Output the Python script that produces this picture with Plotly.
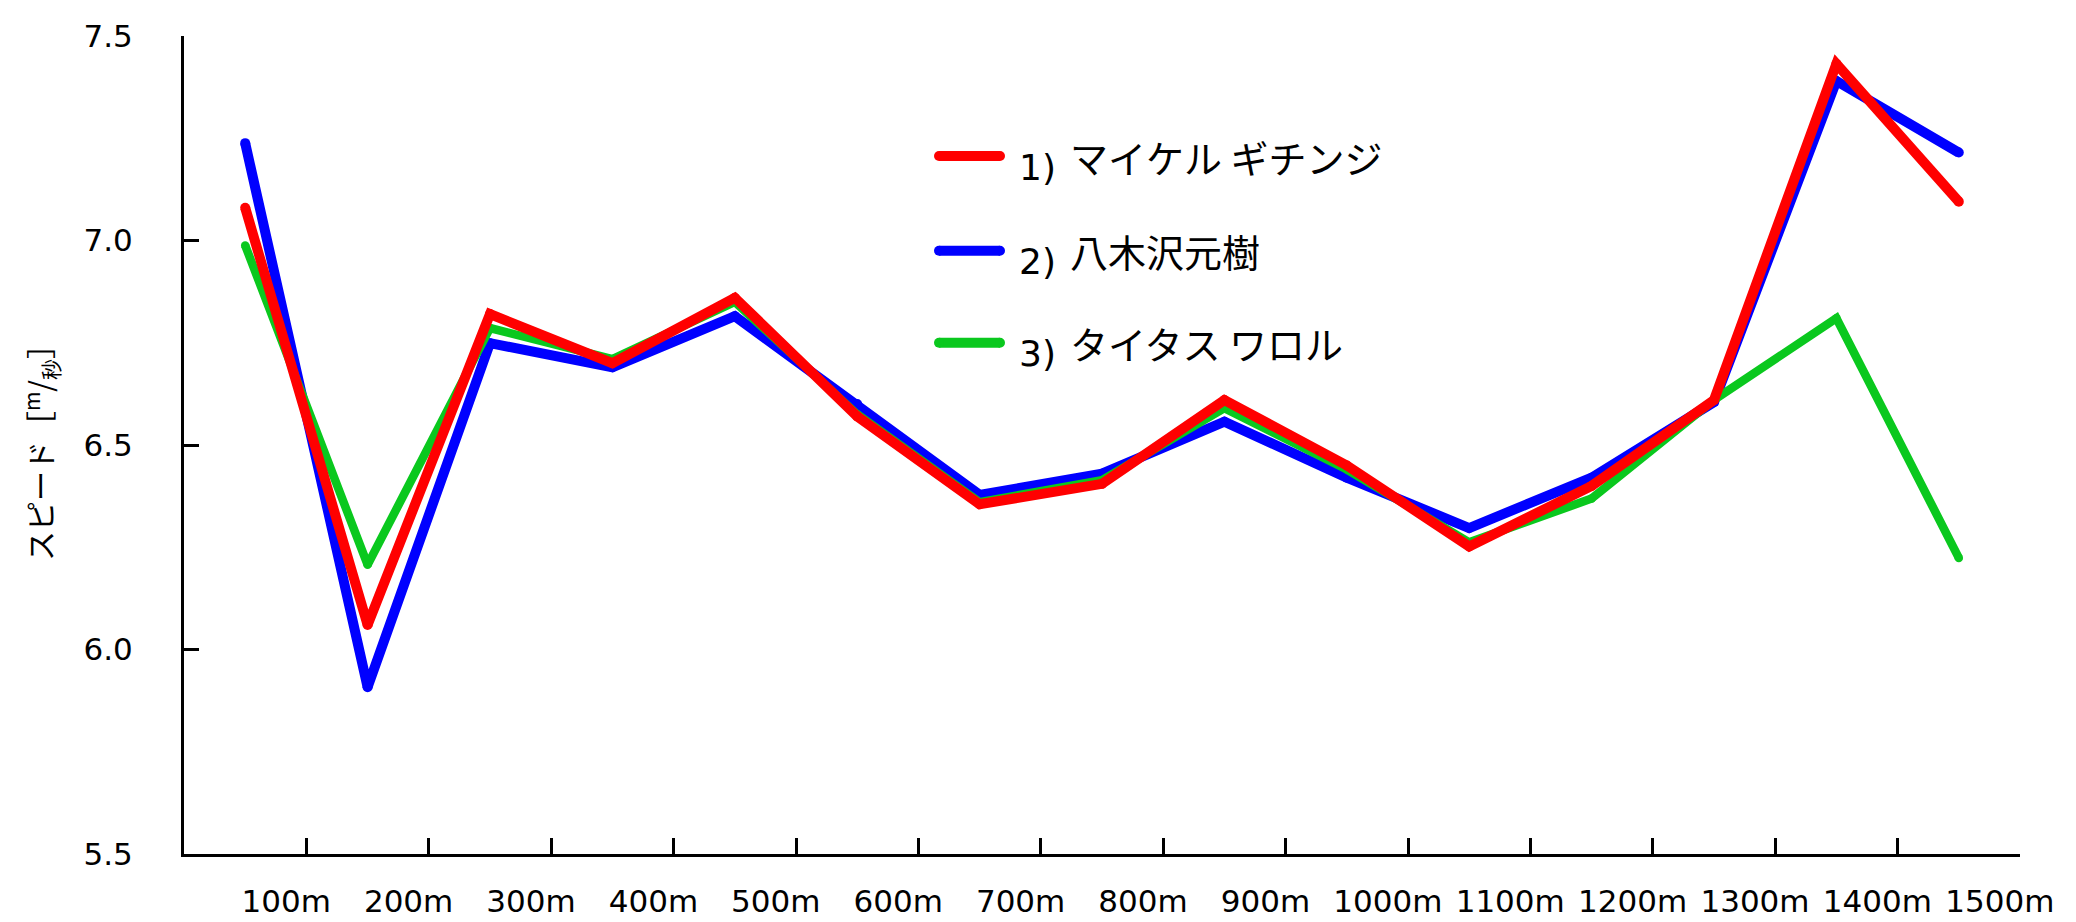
import plotly.graph_objects as go

categories = ["100m", "200m", "300m", "400m", "500m", "600m", "700m", "800m",
              "900m", "1000m", "1100m", "1200m", "1300m", "1400m", "1500m"]

ranks = ["1)", "2)", "3)"]
names = ["マイケル ギチンジ", "八木沢元樹", "タイタス ワロル"]

gichinji = [7.08, 6.06, 6.82, 6.70, 6.86, 6.57, 6.355, 6.405, 6.61, 6.45,
            6.252, 6.40, 6.61, 7.432, 7.095]
yagisawa = [7.238, 5.908, 6.749, 6.69, 6.815, 6.60, 6.378, 6.43, 6.557, 6.42,
            6.297, 6.42, 6.605, 7.39, 7.215]
wanjiku = [6.988, 6.207, 6.786, 6.71, 6.85, 6.575, 6.36, 6.414, 6.59, 6.44,
           6.262, 6.369, 6.61, 6.81, 6.224]

series = [gichinji, yagisawa, wanjiku]
colors = ["#FF0000", "#0000FF", "#0AC81E"]
widths = [10, 10, 8.5]
draw_order = [1, 2, 0]  # blue, green, then red on top

W, H = 2076, 922
OFF = 8  # page body margin
# plot area wanted on screen: x 184..2020, y 36..854
X0, X1, Y0, Y1 = 184, 2020, 36, 854
L, T = X0 - OFF, Y0 - OFF
PW, PH = X1 - X0, Y1 - Y0
R, B = W - L - PW, H - T - PH


def px(x):
    return (x - X0) / PW


def py(y):
    return (Y1 - y) / PH


fig = go.Figure()
for i in draw_order:
    fig.add_trace(go.Scatter(
        x=categories, y=series[i], name=f"{ranks[i]} {names[i]}",
        mode="lines+markers",
        line=dict(color=colors[i], width=widths[i]),
        marker=dict(color=colors[i], size=widths[i], line=dict(width=0)),
        showlegend=False,
    ))

# manual legend
legend_rows = [156, 250.7, 342.7]
for i in range(3):
    yc = legend_rows[i]
    fig.add_shape(type="line", xref="paper", yref="paper",
                  x0=px(939), x1=px(1000), y0=py(yc), y1=py(yc),
                  line=dict(color=colors[i], width=10))
    for cx in (939, 1000):
        fig.add_shape(type="circle", xref="paper", yref="paper",
                      x0=px(cx - 5), x1=px(cx + 5), y0=py(yc + 5), y1=py(yc - 5),
                      line=dict(width=0), fillcolor=colors[i])
    fig.add_annotation(xref="paper", yref="paper", x=px(1017), y=py(yc + 11),
                       xanchor="left", yanchor="middle", showarrow=False,
                       text=ranks[i],
                       font=dict(family="DejaVu Sans", size=36, color="black"))
    fig.add_annotation(xref="paper", yref="paper", x=px(1068), y=py(yc),
                       xanchor="left", yanchor="middle", showarrow=False,
                       text=names[i],
                       font=dict(family="Noto Sans CJK JP", size=38, color="black"))

fig.update_layout(
    width=W, height=H,
    margin=dict(l=L, r=R, t=T, b=B, pad=0),
    paper_bgcolor="white", plot_bgcolor="white",
    font=dict(family="DejaVu Sans", color="black"),
    showlegend=False,
)
fig.update_xaxes(
    type="category", range=[-0.5, 14.5], automargin=False,
    tickson="boundaries", ticks="inside", ticklen=16, tickwidth=3, tickcolor="black",
    showline=True, linewidth=3, linecolor="black",
    showgrid=False, zeroline=False,
    tickfont=dict(family="DejaVu Sans", size=31, color="black"),
    ticklabelshift=41, ticklabelstandoff=18,
)
fig.update_yaxes(
    range=[5.5, 7.5], tick0=5.5, dtick=0.5, tickformat=".1f", automargin=False,
    ticks="inside", ticklen=15, tickwidth=3, tickcolor="black",
    showline=True, linewidth=3, linecolor="black",
    showgrid=False, zeroline=False,
    tickfont=dict(family="DejaVu Sans", size=31, color="black"),
    ticklabelstandoff=42,
    title=dict(text="スピード［<sup>m</sup>/<sub>秒</sub>］",
               font=dict(family="Noto Sans CJK JP", size=30, color="black"),
               standoff=22),
)

fig.write_html("out.html")
